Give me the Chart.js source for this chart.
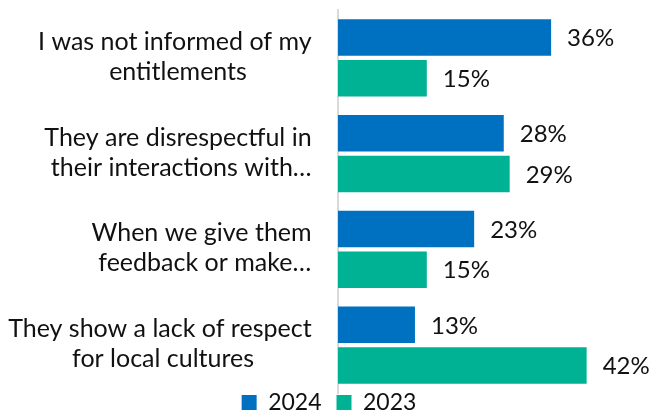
<!DOCTYPE html>
<html>
<head>
<meta charset="utf-8">
<script src="https://cdn.jsdelivr.net/npm/chart.js@4"></script>
<style>
  html, body { margin: 0; padding: 0; background: #fff; overflow: hidden; }
  #wrap { width: 663px; height: 441px; position: relative; }
</style>
</head>
<body>
<div id="wrap"><canvas id="chart"></canvas></div>
<script>
// two-line category captions (first line keeps its trailing space, like the source sheet)
const categories = [
  ['I was not informed of my ', 'entitlements'],
  ['They are disrespectful in ', 'their interactions with\u2026'],
  ['When we give them ', 'feedback or make\u2026'],
  ['They show a lack of respect ', 'for local cultures']
];
const seriesNames = ['2024', '2023'];
const values2024 = [36, 28, 23, 13];
const values2023 = [15, 29, 15, 42];

const FONT = 'Lato';
const BLUE = '#0070C0';
const TEAL = '#00B294';

// value labels just past the end of each bar
const valueLabels = {
  id: 'valueLabels',
  afterDatasetsDraw(chart) {
    const ctx = chart.ctx;
    ctx.save();
    ctx.font = '24px ' + FONT;
    ctx.fillStyle = '#111';
    ctx.textAlign = 'left';
    ctx.textBaseline = 'middle';
    chart.data.datasets.forEach((ds, i) => {
      chart.getDatasetMeta(i).data.forEach((bar, j) => {
        ctx.fillText(ds.data[j] + '%', bar.x + 16, bar.y + 1);
      });
    });
    ctx.restore();
  }
};

// category captions: each block centred on itself, block right-aligned near the axis
const categoryLabels = {
  id: 'categoryLabels',
  afterDraw(chart) {
    const ctx = chart.ctx;
    const yScale = chart.scales.y;
    const right = 318;
    const lineH = 30;
    ctx.save();
    ctx.font = '25px ' + FONT;
    ctx.fillStyle = '#111';
    ctx.textAlign = 'center';
    ctx.textBaseline = 'middle';
    categories.forEach((lines, i) => {
      const yc = yScale.getPixelForValue(i);
      const w = Math.max(...lines.map(l => ctx.measureText(l).width));
      const cx = right - w / 2;
      lines.forEach((l, k) => {
        const y = yc - 1 + (k - (lines.length - 1) / 2) * lineH;
        ctx.fillText(l, cx, y);
      });
    });
    ctx.restore();
  }
};

// pull the legend up tight under the axis and a bit right of centre
const legendNudge = {
  id: 'legendNudge',
  afterLayout(chart) {
    const lg = chart.legend;
    if (!lg) return;
    lg.top -= 17;
    lg.bottom -= 17;
    lg.left += 12;
    lg.right += 12;
  }
};

new Chart(document.getElementById('chart'), {
  type: 'bar',
  data: {
    labels: categories,
    datasets: [
      { label: seriesNames[0], data: values2024, backgroundColor: BLUE },
      { label: seriesNames[1], data: values2023, backgroundColor: TEAL }
    ]
  },
  options: {
    indexAxis: 'y',
    responsive: true,
    maintainAspectRatio: false,
    animation: false,
    layout: { padding: { top: 10, right: 29, left: 0, bottom: 0 } },
    datasets: { bar: { categoryPercentage: 0.85, barPercentage: 0.9 } },
    scales: {
      x: { display: false, min: 0, max: 50 },
      y: {
        grid: { display: false },
        border: { color: '#d9d9d9', width: 2 },
        ticks: { display: false },
        afterFit(scale) { scale.width = 338; }
      }
    },
    plugins: {
      legend: {
        position: 'bottom',
        labels: {
          font: { family: FONT, size: 23 },
          color: '#111',
          boxWidth: 15,
          boxHeight: 15,
          padding: 15
        }
      },
      tooltip: { enabled: false }
    }
  },
  plugins: [valueLabels, categoryLabels, legendNudge]
});
</script>
</body>
</html>
